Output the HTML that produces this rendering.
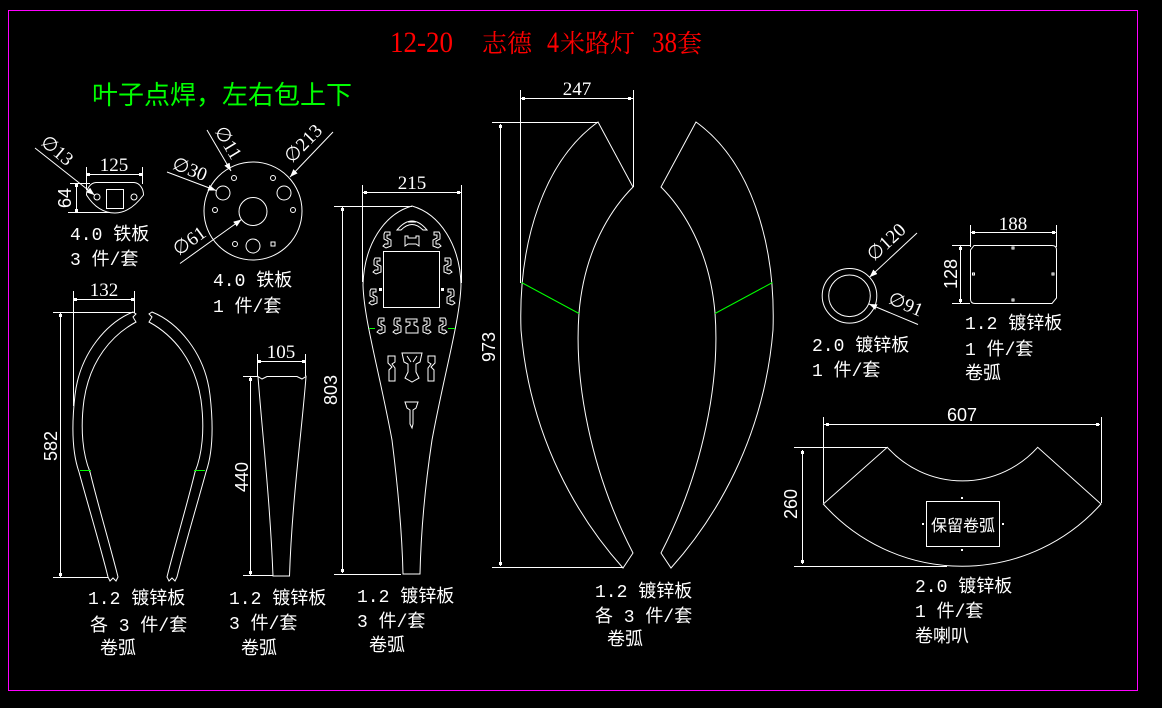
<!DOCTYPE html>
<html><head><meta charset="utf-8">
<style>
html,body{margin:0;padding:0;background:#000;}
svg{display:block}
.l{stroke:#fff;stroke-width:1;fill:none}
.g{stroke:#0f0;stroke-width:1;fill:none}
.t{font-family:"Liberation Mono","Noto Sans CJK SC",monospace;font-size:18px;fill:#fff}
.d{font-family:"Liberation Serif","DejaVu Serif",serif;font-size:19px;fill:#fff}
.v{font-family:"Liberation Sans",sans-serif;font-size:18px;fill:#fff}
.k{fill:#fff}
</style></head><body>
<svg width="1162" height="708" viewBox="0 0 1162 708" xmlns="http://www.w3.org/2000/svg">
<defs>
<marker id="a" markerWidth="8" markerHeight="6" refX="8" refY="3" orient="auto" markerUnits="userSpaceOnUse"><path d="M0,0 L8,3 L0,6 Z" fill="#fff"/></marker>
<path id="sq" d="M3,0 L8,0 L8,3 L5,3 L5,6 L9,8 L9,14 L4,16 L1,14 L3,12 L6,12 L6,9 L2,7 L2,2 Z" class="l"/>
</defs>
<rect width="1162" height="708" fill="#000"/>
<rect x="8.5" y="10.5" width="1129" height="680" fill="none" stroke="#f0f" stroke-width="1"/>

<!-- Title -->
<text x="390" y="52" font-family="Liberation Serif,serif" font-size="30" fill="#f00" textLength="63" lengthAdjust="spacingAndGlyphs">12-20</text>
<text x="482" y="52" font-family="'Noto Serif CJK SC',serif" font-size="25" fill="#f00">志德</text>
<text x="547" y="52" font-family="Liberation Serif,serif" font-size="30" fill="#f00" textLength="12" lengthAdjust="spacingAndGlyphs">4</text>
<text x="560" y="52" font-family="'Noto Serif CJK SC',serif" font-size="25" fill="#f00">米路灯</text>
<text x="652" y="52" font-family="Liberation Serif,serif" font-size="30" fill="#f00" textLength="25" lengthAdjust="spacingAndGlyphs">38</text>
<text x="677" y="52" font-family="'Noto Serif CJK SC',serif" font-size="25" fill="#f00">套</text>

<text x="92" y="104" font-family="'Noto Sans CJK SC',sans-serif" font-size="26" fill="#0f0">叶子点焊，左右包上下</text>

<!-- Part A: small plate -->
<line class="l" x1="87" y1="174.5" x2="142" y2="174.5"/>
<line class="l" x1="86.5" y1="167" x2="86.5" y2="190"/>
<line class="l" x1="142.5" y1="167" x2="142.5" y2="184"/>
<rect class="k" x="87" y="173" width="3" height="3"/><rect class="k" x="139" y="173" width="3" height="3"/>
<text class="d" x="114" y="171" text-anchor="middle">125</text>
<path class="l" d="M96,182.5 L134,182.5 C140,183 143.5,189 143.5,195 Q130,213 115,213 Q98,213 86.5,195 C86.5,189 90,183 96,182.5 Z"/>
<rect class="l" x="106.5" y="189.5" width="17" height="19"/>
<circle class="l" cx="97" cy="197" r="3"/>
<circle class="l" cx="134" cy="197" r="3"/>
<line class="l" x1="76.5" y1="184" x2="76.5" y2="212"/>
<line class="l" x1="70" y1="183.5" x2="90" y2="183.5"/>
<line class="l" x1="68" y1="212.5" x2="110" y2="212.5"/>
<rect class="k" x="75" y="184" width="3" height="3"/><rect class="k" x="75" y="209" width="3" height="3"/>
<text class="v" transform="translate(71,198) rotate(-90)" text-anchor="middle">64</text>
<line class="l" x1="35" y1="148" x2="94.5" y2="195" marker-end="url(#a)"/>
<text class="d" transform="translate(39.5,143.7) rotate(40)">∅13</text>
<text class="t" x="70" y="240">4.0 铁板</text>
<text class="t" x="70" y="265">3 件/套</text>

<!-- Part B: round plate -->
<circle class="l" cx="253" cy="211" r="49"/>
<circle class="l" cx="253" cy="211.5" r="14"/>
<circle class="l" cx="223" cy="193" r="7"/>
<circle class="l" cx="284" cy="193" r="7"/>
<circle class="l" cx="253" cy="246" r="7"/>
<circle class="l" cx="234" cy="178" r="2.5"/>
<circle class="l" cx="273" cy="178" r="2.5"/>
<circle class="l" cx="215" cy="210" r="2.5"/>
<circle class="l" cx="293" cy="210" r="2.5"/>
<circle class="l" cx="235" cy="244" r="2.5"/>
<rect class="l" x="271" y="242" width="4" height="4"/>
<line class="l" x1="207" y1="130" x2="231" y2="171" marker-end="url(#a)"/>
<text class="d" transform="translate(214,131) rotate(59)">∅11</text>
<line class="l" x1="333" y1="132" x2="290" y2="177" marker-end="url(#a)"/>
<text class="d" font-size="20" transform="translate(292,164) rotate(-46)">∅213</text>
<line class="l" x1="167" y1="172" x2="216" y2="190.5" marker-end="url(#a)"/>
<text class="d" transform="translate(171,168.4) rotate(21.4)">∅30</text>
<line class="l" x1="180" y1="263.5" x2="241.5" y2="219.5" marker-end="url(#a)"/>
<text class="d" transform="translate(178.6,256.4) rotate(-36)">∅61</text>
<text class="t" x="213" y="286">4.0 铁板</text>
<text class="t" x="213" y="312">1 件/套</text>

<!-- Part C: legs -->
<line class="l" x1="74" y1="299.5" x2="134" y2="299.5"/>
<line class="l" x1="73.5" y1="291" x2="73.5" y2="406"/>
<line class="l" x1="134.5" y1="291" x2="134.5" y2="313"/>
<rect class="k" x="74" y="298" width="3" height="3"/><rect class="k" x="131" y="298" width="3" height="3"/>
<text class="d" x="104" y="296" text-anchor="middle">132</text>
<line class="l" x1="60.5" y1="313" x2="60.5" y2="577"/>
<line class="l" x1="53" y1="312.5" x2="133" y2="312.5"/>
<line class="l" x1="53" y1="577.5" x2="108" y2="577.5"/>
<rect class="k" x="59" y="314" width="3" height="3"/><rect class="k" x="59" y="573" width="3" height="3"/>
<text class="v" transform="translate(57,446) rotate(-90)" text-anchor="middle">582</text>
<g id="leg">
<path class="l" d="M133,312 L136,314 L133,317 L136,322 C112,335 90,360 84,400 C80,430 83,455 90,472 C98,505 110,545 118,577 L116,581 L113,578 L110,581 L108,577 C100,545 88,505 79,472 C73,455 71,430 75,395 C80,352 108,322 133,312 Z"/>
<line class="g" x1="80" y1="470.5" x2="91" y2="470.5"/>
</g>
<use href="#leg" transform="translate(285,0) scale(-1,1)"/>
<text class="t" x="88" y="604">1.2 镀锌板</text>
<text class="t" x="90" y="631">各 3 件/套</text>
<text class="t" x="100" y="654">卷弧</text>

<!-- Part D: 105 -->
<line class="l" x1="258" y1="361.5" x2="305" y2="361.5"/>
<line class="l" x1="257.5" y1="354" x2="257.5" y2="376"/>
<line class="l" x1="305.5" y1="354" x2="305.5" y2="376"/>
<rect class="k" x="258" y="360" width="3" height="3"/><rect class="k" x="302" y="360" width="3" height="3"/>
<text class="d" x="281" y="358" text-anchor="middle">105</text>
<path class="l" d="M258,376.5 L262,379 L267,376.5 L297,376.5 L302,379 L306,376.5 C302,430 292,500 289.5,576 L273,576 C270,500 262,430 258,376.5 Z"/>
<line class="l" x1="250.5" y1="377" x2="250.5" y2="575"/>
<line class="l" x1="243" y1="376.5" x2="258" y2="376.5"/>
<line class="l" x1="243" y1="575.5" x2="273" y2="575.5"/>
<rect class="k" x="249" y="378" width="3" height="3"/><rect class="k" x="249" y="571" width="3" height="3"/>
<text class="v" transform="translate(248,477) rotate(-90)" text-anchor="middle">440</text>
<text class="t" x="229" y="604">1.2 镀锌板</text>
<text class="t" x="229" y="629">3 件/套</text>
<text class="t" x="241" y="654">卷弧</text>

<!-- Part E: 215 x 803 panel -->
<line class="l" x1="363" y1="192.5" x2="461" y2="192.5"/>
<line class="l" x1="362.5" y1="185" x2="362.5" y2="282"/>
<line class="l" x1="461.5" y1="185" x2="461.5" y2="283"/>
<rect class="k" x="364" y="191" width="3" height="3"/><rect class="k" x="457" y="191" width="3" height="3"/>
<text class="d" x="412" y="189" text-anchor="middle">215</text>
<line class="l" x1="342.5" y1="207" x2="342.5" y2="573"/>
<line class="l" x1="334" y1="206.5" x2="412" y2="206.5"/>
<line class="l" x1="334" y1="574.5" x2="401" y2="574.5"/>
<rect class="k" x="341" y="208" width="3" height="3"/><rect class="k" x="341" y="569" width="3" height="3"/>
<text class="v" transform="translate(337,390) rotate(-90)" text-anchor="middle">803</text>
<path class="l" d="M412,206 C440,214 460,245 461,285 C460,320 445,370 432,440 C426,480 421,530 420,574 L403,574 C402,530 397,480 392,440 C379,370 364,320 363,285 C364,245 384,214 412,206 Z"/>
<rect class="l" x="383.5" y="251.5" width="56" height="56"/>
<line class="g" x1="369" y1="328.5" x2="375" y2="328.5"/>
<line class="g" x1="448" y1="328.5" x2="455" y2="328.5"/>
<path class="l" d="M397,230 Q412,212 427,230 L423,230 Q412,219 401,230 Z M408,222 L416,222"/>
<path class="l" d="M405,236 L408,236 L408,238 L416,238 L416,236 L419,236 L419,246 L416,244 L408,244 L405,246 Z"/>
<use href="#sq" transform="translate(382,232)"/>
<use href="#sq" transform="translate(442,232) scale(-1,1)"/>
<use href="#sq" transform="translate(372,258)"/>
<use href="#sq" transform="translate(453,258) scale(-1,1)"/>
<use href="#sq" transform="translate(368,289)"/>
<use href="#sq" transform="translate(456,289) scale(-1,1)"/>
<rect class="k" x="379" y="288" width="3" height="3"/>
<rect class="k" x="441" y="288" width="3" height="3"/>
<use href="#sq" transform="translate(376,318)"/>
<use href="#sq" transform="translate(392,318)"/>
<path class="l" d="M406,319 L417,319 L417,322 L414,322 L414,325 L418,327 L418,333 L406,333 L406,327 L410,325 L410,322 L406,322 Z"/>
<use href="#sq" transform="translate(432,318) scale(-1,1)"/>
<use href="#sq" transform="translate(448,318) scale(-1,1)"/>
<path class="l" d="M388,356 L395,356 L395,362 L392,364 L395,368 L395,381 L389,381 L389,370 L392,367 L388,363 Z"/>
<path class="l" d="M435,356 L428,356 L428,362 L431,364 L428,368 L428,381 L434,381 L434,370 L431,367 L435,363 Z"/>
<path class="l" d="M402,353 L422,353 L420,362 L416,364 L416,372 L419,378 L412,382 L405,378 L408,372 L408,364 L404,362 Z M407,356 L411,362 M417,356 L413,362"/>
<path class="l" d="M405,402 L418,402 L416,408 L413,410 L413,424 L412,428 L410,424 L410,410 L407,408 Z"/>
<text class="t" x="357" y="602">1.2 镀锌板</text>
<text class="t" x="357" y="627">3 件/套</text>
<text class="t" x="369" y="651">卷弧</text>

<!-- Part F: 247 x 973 -->
<line class="l" x1="521" y1="98.5" x2="633" y2="98.5"/>
<line class="l" x1="520.5" y1="90" x2="520.5" y2="283"/>
<line class="l" x1="633.5" y1="90" x2="633.5" y2="187"/>
<rect class="k" x="522" y="97" width="3" height="3"/><rect class="k" x="628" y="97" width="3" height="3"/>
<text class="d" x="577" y="95" font-size="21" text-anchor="middle">247</text>
<line class="l" x1="500.5" y1="124" x2="500.5" y2="566"/>
<line class="l" x1="492" y1="122.5" x2="598" y2="122.5"/>
<line class="l" x1="492" y1="567.5" x2="623" y2="567.5"/>
<rect class="k" x="499" y="125" width="3" height="3"/><rect class="k" x="499" y="562" width="3" height="3"/>
<text class="v" transform="translate(495,347) rotate(-90)" text-anchor="middle">973</text>
<g id="arc">
<path class="l" d="M598,122 L633,187 C620,200 585,240 579,313 C574,380 590,470 633,553 L623,568 C580,520 530,440 521,330 C518,240 545,160 598,122 Z"/>
<line class="g" x1="521.5" y1="282.5" x2="579" y2="313.5"/>
</g>
<use href="#arc" transform="translate(1294,0) scale(-1,1)"/>
<text class="t" x="595" y="597">1.2 镀锌板</text>
<text class="t" x="595" y="622">各 3 件/套</text>
<text class="t" x="607" y="645">卷弧</text>

<!-- Part G: ring -->
<circle class="l" cx="849.5" cy="295.8" r="27.3"/>
<circle class="l" cx="849.5" cy="295.8" r="20.8"/>
<line class="l" x1="917" y1="233" x2="869.5" y2="277.2" marker-end="url(#a)"/>
<text class="d" transform="translate(874,262) rotate(-43)">∅120</text>
<line class="l" x1="918" y1="324.5" x2="869" y2="304" marker-end="url(#a)"/>
<text class="d" transform="translate(887,303) rotate(23)">∅91</text>
<text class="t" x="812" y="351">2.0 镀锌板</text>
<text class="t" x="812" y="376">1 件/套</text>

<!-- Part H: 188 x 128 -->
<line class="l" x1="971" y1="232.5" x2="1056" y2="232.5"/>
<line class="l" x1="970.5" y1="225" x2="970.5" y2="247"/>
<line class="l" x1="1056.5" y1="225" x2="1056.5" y2="247"/>
<rect class="k" x="972" y="231" width="3" height="3"/><rect class="k" x="1052" y="231" width="3" height="3"/>
<text class="d" x="1013" y="230" text-anchor="middle">188</text>
<path class="l" d="M974,245.5 L1052,245.5 Q1056.5,245.5 1056.5,250 L1056.5,298 L1052,303.5 L975,303.5 Q970.5,303.5 970.5,299 L970.5,250 Z"/>
<rect class="l" x="1012" y="247" width="2" height="2"/>
<rect class="l" x="1012" y="299" width="2" height="2"/>
<rect class="l" x="972.5" y="273" width="2" height="2"/>
<rect class="l" x="1052" y="273" width="2" height="2"/>
<line class="l" x1="960.5" y1="246" x2="960.5" y2="303"/>
<line class="l" x1="952" y1="245.5" x2="970" y2="245.5"/>
<line class="l" x1="952" y1="303.5" x2="970" y2="303.5"/>
<rect class="k" x="959" y="247" width="3" height="3"/><rect class="k" x="959" y="299" width="3" height="3"/>
<text class="v" transform="translate(957,274) rotate(-90)" text-anchor="middle">128</text>
<text class="t" x="965" y="329">1.2 镀锌板</text>
<text class="t" x="965" y="355">1 件/套</text>
<text class="t" x="965" y="379">卷弧</text>

<!-- Part I: 607 x 260 fan -->
<line class="l" x1="824" y1="424.5" x2="1100" y2="424.5"/>
<line class="l" x1="823.5" y1="417" x2="823.5" y2="503"/>
<line class="l" x1="1101.5" y1="417" x2="1101.5" y2="503"/>
<rect class="k" x="826" y="423" width="3" height="3"/><rect class="k" x="1096" y="423" width="3" height="3"/>
<text class="v" x="962" y="421" text-anchor="middle">607</text>
<path class="l" d="M887.3,447.3 A101,101 0 0 0 1037.7,447.3 L1101,504 A186,186 0 0 1 823.3,504 Z"/>
<rect class="l" x="926.5" y="501.5" width="73" height="45"/>
<text x="963" y="531" text-anchor="middle" font-family="'Noto Sans CJK SC',sans-serif" font-size="16" fill="#fff">保留卷弧</text>
<rect class="k" x="961" y="497" width="2" height="2"/>
<rect class="k" x="961" y="549" width="2" height="2"/>
<rect class="k" x="922" y="523" width="2" height="2"/>
<rect class="k" x="1002" y="523" width="2" height="2"/>
<line class="l" x1="802.5" y1="450" x2="802.5" y2="564"/>
<line class="l" x1="794" y1="447.5" x2="887" y2="447.5"/>
<line class="l" x1="794" y1="566.5" x2="947" y2="566.5"/>
<rect class="k" x="801" y="451" width="3" height="3"/><rect class="k" x="801" y="560" width="3" height="3"/>
<text class="v" transform="translate(797,504) rotate(-90)" text-anchor="middle">260</text>
<text class="t" x="915" y="592">2.0 镀锌板</text>
<text class="t" x="915" y="617">1 件/套</text>
<text class="t" x="915" y="642">卷喇叭</text>
</svg>
</body></html>
